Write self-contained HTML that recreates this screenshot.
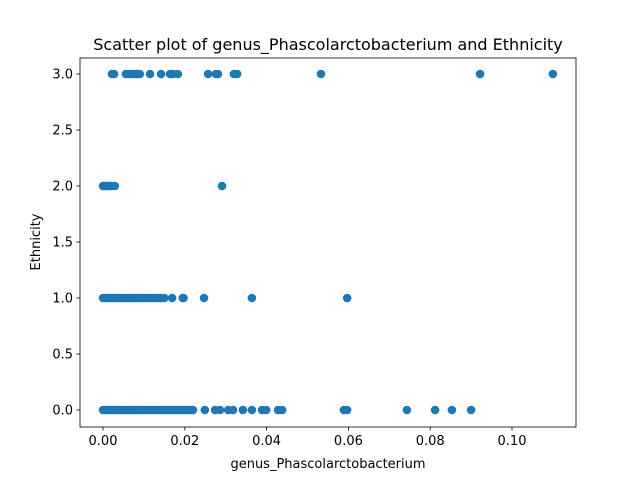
<!DOCTYPE html>
<html><head><meta charset="utf-8"><style>
body{margin:0;background:#fff}
svg text{font-family:"DejaVu Sans","Liberation Sans",sans-serif;fill:#000}
</style></head><body>
<svg id="chart" width="640" height="480" xmlns="http://www.w3.org/2000/svg">
<rect x="0" y="0" width="640" height="480" fill="#fff"/>
<text x="328" y="50" font-size="16" text-anchor="middle">Scatter plot of genus_Phascolarctobacterium and Ethnicity</text>
<text x="328" y="468" font-size="13" text-anchor="middle">genus_Phascolarctobacterium</text>
<text x="0" y="0" font-size="13" text-anchor="middle" transform="translate(40,242) rotate(-90)">Ethnicity</text>
<g id="plot"></g>
</svg>
<script>
const row3=[0.0022,0.0027,0.0056,0.0064,0.0071,0.0078,0.0083,0.0090,0.0115,0.0142,0.0164,0.0171,0.0183,0.0257,0.0276,0.0281,0.0320,0.0328,0.0533,0.0922,0.110];
const row2=[0,0.0003,0.0006,0.001,0.0015,0.002,0.0029,0.0291];
const row1=[0,0.0005,0.001,0.0015,0.002,0.0025,0.003,0.0035,0.004,0.0045,0.005,0.0055,0.006,0.0065,0.007,0.0075,0.008,0.0085,0.009,0.0095,0.010,0.0105,0.011,0.0115,0.012,0.0125,0.013,0.0135,0.014,0.015,0.0169,0.0195,0.0197,0.0247,0.0364,0.0597];
const row0=[0,0.0005,0.001,0.0015,0.002,0.0025,0.003,0.0035,0.004,0.0045,0.005,0.0055,0.006,0.0065,0.007,0.0075,0.008,0.0085,0.009,0.0095,0.010,0.0105,0.011,0.0115,0.012,0.0125,0.013,0.0135,0.014,0.0145,0.015,0.0155,0.016,0.0165,0.017,0.0175,0.018,0.0185,0.019,0.0195,0.020,0.0205,0.021,0.0215,0.022,0.0249,0.0274,0.0286,0.0306,0.0318,0.0342,0.0364,0.0389,0.0399,0.0428,0.0438,0.0589,0.0597,0.0743,0.0812,0.0853,0.0900];
const xTicks=[0,0.02,0.04,0.06,0.08,0.10];
const xTickLabels=["0.00","0.02","0.04","0.06","0.08","0.10"];
const yTicks=[0,0.5,1,1.5,2,2.5,3];
const yTickLabels=["0.0","0.5","1.0","1.5","2.0","2.5","3.0"];
const NS="http://www.w3.org/2000/svg";
const L=80,R=576,T=58,B=427;
const xs=v=>103+v*4090;
const ys=v=>410-v*112;
const g=document.getElementById('plot');
function el(t,a){const e=document.createElementNS(NS,t);for(const k in a)e.setAttribute(k,a[k]);g.appendChild(e);return e;}
[[row0,0],[row1,1],[row2,2],[row3,3]].forEach(([arr,y])=>{arr.forEach(v=>{
 const c=el('circle',{cx:xs(v),cy:ys(y),r:4.3,fill:'#1f77b4'});
 
 
});});
const frame=el('rect',{x:L,y:T,width:R-L,height:B-T,fill:'none',stroke:'#000','stroke-width':0.8});


xTicks.forEach((v,i)=>{
 const x=xs(v);
 const tk=el('line',{x1:x,x2:x,y1:B,y2:B+3.5,stroke:'#000','stroke-width':0.8});
 
 
 const t=el('text',{x:x,y:B+18,'font-size':13,'text-anchor':'middle'});
 t.textContent=xTickLabels[i];
 
 
});
yTicks.forEach((v,i)=>{
 const y=ys(v);
 const tk=el('line',{x1:L-3.5,x2:L,y1:y,y2:y,stroke:'#000','stroke-width':0.8});
 
 
 const t=el('text',{x:L-7,y:y+4.5,'font-size':13,'text-anchor':'end'});
 t.textContent=yTickLabels[i];
 
 
});
</script>
</body></html>
